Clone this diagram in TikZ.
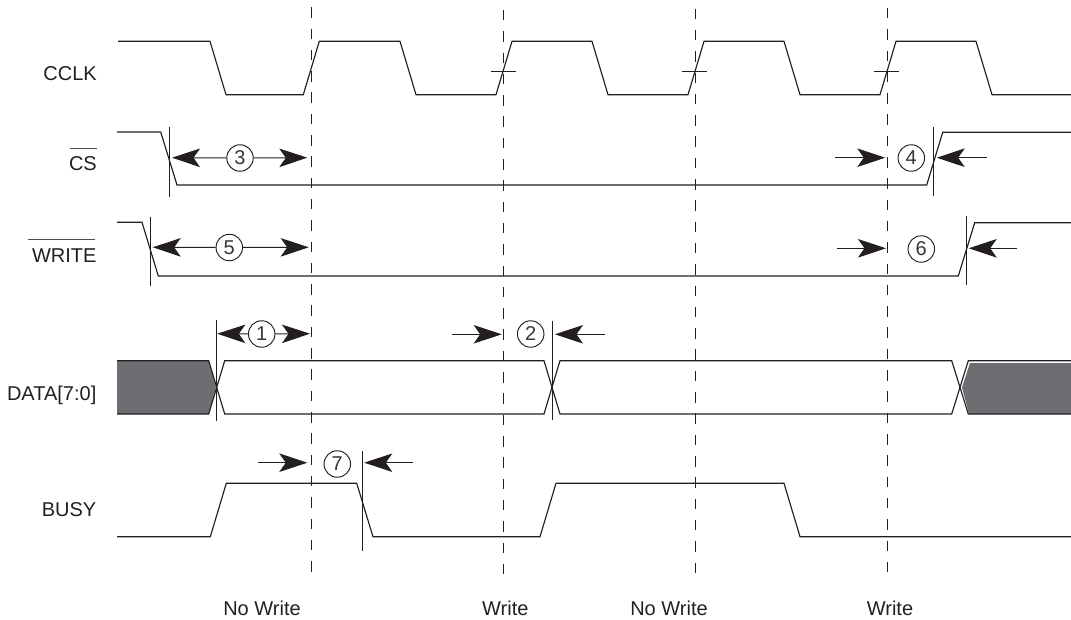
\documentclass[tikz,border=0pt]{standalone}
\usepackage{fontspec}
\setmainfont{Liberation Sans}
\usetikzlibrary{arrows.meta}
\definecolor{ink}{HTML}{231F20}
\definecolor{bus}{HTML}{6D6E71}
\tikzset{
  wave/.style={draw=ink,line width=1.15pt,line join=miter},
  guide/.style={draw=ink,line width=1.05pt,dash pattern=on 10.5pt off 10.8pt},
  tickline/.style={draw=ink,line width=0.95pt},
  dimline/.style={draw=ink,line width=0.95pt,-{Stealth[length=28pt,width=18.5pt,inset=6.5pt]}},
  circ/.style={circle,draw=ink,line width=0.95pt,fill=white,minimum size=26.5pt,inner sep=0pt,font=\fontsize{20pt}{20pt}\selectfont,text=ink!90},
  siglabel/.style={anchor=base east,inner sep=0pt,font=\fontsize{20pt}{20pt}\selectfont,text=ink},
  phase/.style={anchor=base,inner sep=0pt,font=\fontsize{20pt}{20pt}\selectfont,text=ink},
  barline/.style={draw=ink!80,line width=1pt}
}
\begin{document}
\begin{tikzpicture}[x=1pt,y=-1pt]
\useasboundingbox (0,0) rectangle (1071,620);
% bus fills
\fill[bus] (117,361) -- (208.7,361) -- (216,387.5) -- (208.7,414) -- (117,414) -- cycle;
\fill[bus] (1071,363) -- (970,363) -- (962,387.5) -- (969,414) -- (1071,414) -- cycle;
% guides
\draw[guide] (311.7,7.3) -- (311.7,573);
\draw[guide] (503.7,10) -- (503.7,575);
\draw[guide] (695.8,8.7) -- (695.8,573);
\draw[guide] (887.5,8) -- (887.5,573);
% CCLK
\draw[wave] (118,41.3) -- (210,41.3) -- (226,94.7) -- (303.3,94.7) -- (319.3,41.3) -- (400,41.3) -- (416,94.7) -- (496,94.7) -- (512,41.3) -- (592,41.3) -- (608,94.7) -- (688,94.7) -- (704,41.3) -- (784,41.3) -- (800,94.7) -- (880,94.7) -- (896,41.3) -- (976,41.3) -- (992,94.7) -- (1071,94.7);
\draw[tickline] (490.5,71) -- (515.5,71);
\draw[tickline] (681.5,71.5) -- (706.5,71.5);
\draw[tickline] (874,71.7) -- (899,71.7);
% CS
\draw[wave] (117,132) -- (160.7,132) -- (177,185) -- (926.7,185) -- (942.7,132.3) -- (1071,132.3);
\draw[tickline] (169,127) -- (169,197);
\draw[tickline] (933.7,127) -- (933.7,196);
% WRITE
\draw[wave] (117,222.3) -- (142,222.3) -- (158.3,276) -- (958.3,276) -- (974.7,222.7) -- (1071,222.7);
\draw[tickline] (150.7,216.7) -- (150.7,286);
\draw[tickline] (966.7,216) -- (966.7,285);
% DATA
\draw[wave] (117,360.7) -- (208.7,360.7) -- (224.7,414) -- (544,414) -- (560,360.7) -- (951.7,360.7) -- (968.3,414) -- (1071,414);
\draw[wave] (117,414) -- (208.7,414) -- (224.7,360.7) -- (544,360.7) -- (560,414) -- (951.7,414) -- (968.3,360.7) -- (1071,360.7);
\draw[tickline] (216.3,320) -- (216.3,421);
\draw[tickline] (552,320.7) -- (552,420);
% BUSY
\draw[wave] (117,536.7) -- (210.3,536.7) -- (226.3,483.3) -- (356.7,483.3) -- (373,536.7) -- (540,536.7) -- (556,483.3) -- (784,483.3) -- (800,536.7) -- (1071,536.7);
\draw[tickline] (362.7,451) -- (362.7,551);
% labels
\node[siglabel] (lclk) at (97,81) {CCLK};
\node[siglabel] (lcs) at (97,170.7) {CS};
\node[siglabel] (lwr) at (96.7,262.7) {WRITE};
\node[siglabel] (ldata) at (96.5,400) {DATA[7:0]};
\node[siglabel] (lbusy) at (96.5,516) {BUSY};
\draw[barline] (70,148.7) -- (97,148.7);
\draw[barline] (28,239.7) -- (94.7,239.7);
\node[phase] (p1) at (262,615) {No Write};
\node[phase] (p2) at (505.3,615) {Write};
\node[phase] (p3) at (669,615) {No Write};
\node[phase] (p4) at (890,615) {Write};
% numbered circles
\node[circ] (n1) at (261.7,334) {1};
\node[circ] (n2) at (530.7,334) {2};
\node[circ] (n3) at (240,158) {3};
\node[circ] (n4) at (911.3,158) {4};
\node[circ] (n5) at (229.3,247.5) {5};
\node[circ] (n6) at (921.3,249) {6};
\node[circ] (n7) at (337.3,464) {7};
% arrow ends
\coordinate (a1l) at (217.3,333.7); \coordinate (a1r) at (310,333.7);
\coordinate (a2a) at (451.7,334.3); \coordinate (a2b) at (501.7,334.3);
\coordinate (a2c) at (605,334.3); \coordinate (a2d) at (555,334.3);
\coordinate (a3l) at (172,157.7); \coordinate (a3r) at (307.3,157.7);
\coordinate (a4a) at (835,157.7); \coordinate (a4b) at (885.3,157.7);
\coordinate (a4c) at (986.7,157.7); \coordinate (a4d) at (936.7,157.7);
\coordinate (a5l) at (152.7,247.3); \coordinate (a5r) at (308.7,247.3);
\coordinate (a6a) at (836.7,248.3); \coordinate (a6b) at (886,248.3);
\coordinate (a6c) at (1016.7,248.3); \coordinate (a6d) at (968.7,248.3);
\coordinate (a7a) at (257.7,462.7); \coordinate (a7b) at (307.3,462.7);
\coordinate (a7c) at (412.7,462.7); \coordinate (a7d) at (364.3,462.7);
% dimension arrows
\draw[dimline] (n1) -- (a1l); \draw[dimline] (n1) -- (a1r);
\draw[dimline] (a2a) -- (a2b); \draw[dimline] (a2c) -- (a2d);
\draw[dimline] (n3) -- (a3l); \draw[dimline] (n3) -- (a3r);
\draw[dimline] (a4a) -- (a4b); \draw[dimline] (a4c) -- (a4d);
\draw[dimline] (n5) -- (a5l); \draw[dimline] (n5) -- (a5r);
\draw[dimline] (a6a) -- (a6b); \draw[dimline] (a6c) -- (a6d);
\draw[dimline] (a7a) -- (a7b); \draw[dimline] (a7c) -- (a7d);
\end{tikzpicture}
\end{document}
